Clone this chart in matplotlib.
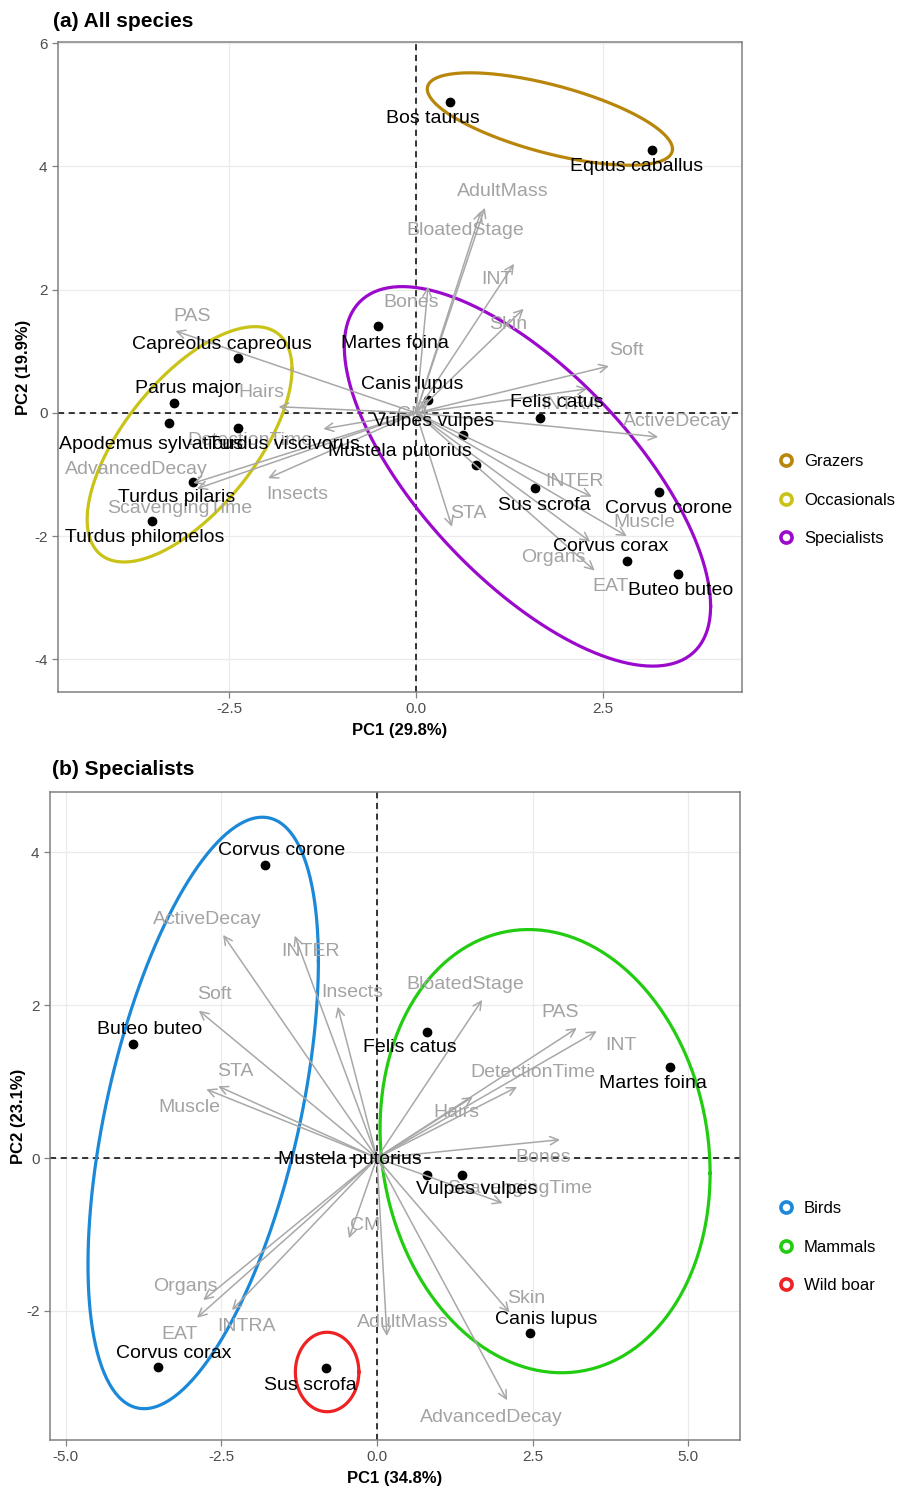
import numpy as np
import matplotlib
matplotlib.use('Agg')
import matplotlib.pyplot as plt
from matplotlib.lines import Line2D

plt.rcParams['font.family'] = ['Liberation Sans', 'DejaVu Sans']
plt.rcParams['axes.unicode_minus'] = False

# ---- (a) all species: scores ----
species_a = ['Bos taurus', 'Equus caballus', 'Capreolus capreolus', 'Parus major',
             'Apodemus sylvaticus', 'Turdus viscivorus', 'Turdus pilaris',
             'Turdus philomelos', 'Martes foina', 'Canis lupus', 'Felis catus',
             'Vulpes vulpes', 'Mustela putorius', 'Sus scrofa', 'Corvus corone',
             'Corvus corax', 'Buteo buteo']
pc1_a = [0.45, 3.16, -2.38, -3.24, -3.30, -2.38, -2.98, -3.53, -0.51, 0.16, 1.66,
         0.63, 0.80, 1.59, 3.25, 2.82, 3.50]
pc2_a = [5.05, 4.27, 0.89, 0.16, -0.16, -0.24, -1.12, -1.75, 1.41, 0.21, -0.08,
         -0.36, -0.84, -1.22, -1.28, -2.40, -2.61]

# ---- (a) loadings ----
vars_a = ['AdultMass', 'BloatedStage', 'INT', 'Skin', 'Bones', 'Soft', 'INTRA',
          'ActiveDecay', 'INTER', 'Muscle', 'Organs', 'EAT', 'STA', 'PAS', 'Hairs',
          'DetectionTime', 'AdvancedDecay', 'ScavengingTime', 'Insects', 'CM']
load1_a = [0.92, 0.87, 1.31, 1.44, 0.16, 2.58, 2.29, 3.24, 2.35, 2.82, 2.33, 2.39,
           0.48, -3.22, -1.84, -1.24, -2.98, -2.93, -1.98, 0.17]
load2_a = [3.33, 3.28, 2.42, 1.69, 2.05, 0.76, 0.39, -0.39, -1.36, -2.00, -2.09,
           -2.56, -1.85, 1.33, 0.10, -0.26, -1.14, -1.23, -1.06, 0.23]

# ---- (a) group ellipses: centre, half extents, tilt (cos of phase) ----
groups_a = ['Grazers', 'Occasionals', 'Specialists']
ell_cx_a = [1.79, -3.03, 1.49]
ell_cy_a = [4.77, -0.51, -1.03]
ell_hw_a = [1.64, 1.37, 2.45]
ell_hh_a = [0.75, 1.91, 3.08]
ell_tilt_a = [-0.65, 0.64, -0.684]

# ---- (b) specialists: scores ----
species_b = ['Corvus corone', 'Buteo buteo', 'Corvus corax', 'Sus scrofa', 'Felis catus',
             'Martes foina', 'Mustela putorius', 'Vulpes vulpes', 'Canis lupus']
pc1_b = [-1.80, -3.92, -3.52, -0.82, 0.80, 4.70, 0.80, 1.36, 2.46]
pc2_b = [3.84, 1.49, -2.74, -2.75, 1.65, 1.19, -0.22, -0.22, -2.29]

# ---- (b) loadings ----
vars_b = ['ActiveDecay', 'INTER', 'Insects', 'Soft', 'STA', 'Muscle', 'BloatedStage',
          'PAS', 'INT', 'DetectionTime', 'Hairs', 'Bones', 'ScavengingTime', 'CM',
          'Organs', 'EAT', 'INTRA', 'AdultMass', 'Skin', 'AdvancedDecay']
load1_b = [-2.47, -1.32, -0.63, -2.86, -2.55, -2.74, 1.69, 3.21, 3.53, 2.25, 1.54,
           2.94, 2.02, -0.45, -2.79, -2.89, -2.33, 0.16, 2.13, 2.09]
load2_b = [2.92, 2.91, 1.98, 1.93, 0.94, 0.90, 2.07, 1.70, 1.66, 0.93, 0.80, 0.24,
           -0.59, -1.05, -1.86, -2.09, -1.99, -2.33, -2.02, -3.17]

# ---- (b) group ellipses ----
groups_b = ['Birds', 'Mammals', 'Wild boar']
ell_cx_b = [-2.79, 2.70, -0.80]
ell_cy_b = [0.59, 0.09, -2.80]
ell_hw_b = [1.85, 2.65, 0.51]
ell_hh_b = [3.87, 2.90, 0.52]
ell_tilt_b = [0.513, -0.10, 0.0]

# label nudges in pixels (right, down)
nudge_sp_a = [(-17, 17), (-16, 17), (-16, -14), (14, -15), (-18, 22), (46, 17),
              (-17, 16), (-8, 17), (17, 17), (-16, -15), (17, -15), (-30, -14),
              (-76, -13), (9, 17), (10, 17), (-16, -14), (3, 17)]
nudge_var_a = [(18, -16), (-16, 20), (-17, 16), (-16, 16), (-17, 16), (17, -16),
               (-17, 16), (19, -15), (-17, -15), (17, -14), (-37, 16), (16, 16),
               (16, -13), (17, -14), (-17, -14), (-73, 12), (-57, -14), (-17, 20),
               (29, 16), (-17, 16)]
nudge_sp_b = [(17, -14), (17, -15), (16, -14), (-16, 17), (-17, 16), (-17, 16),
              (-77, -15), (15, 15), (16, -14)]
nudge_var_b = [(-16, -15), (16, 16), (15, -14), (16, -16), (17, -15), (-17, 18),
               (-17, -15), (-17, -16), (24, 14), (16, -14), (-16, 16), (-17, 18),
               (17, -15), (16, -13), (-18, -14), (-17, 17), (15, 16), (16, -14),
               (17, -14), (-16, 17)]

colors_a = ['#B8860B', '#C9C318', '#9B0ACC']
colors_b = ['#1C88D8', '#22CC11', '#EE2222']

ARROW = '#A8A8A8'
VARTXT = '#A3A3A3'


def biplot(ax, xlim, ylim, xticks, yticks, xlabels,
           sp, p1, p2, nsp, vr, l1, l2, nvr, ell, cols):
    ax.set_xlim(*xlim)
    ax.set_ylim(*ylim)
    ax.set_xticks(xticks)
    ax.set_xticklabels(xlabels)
    ax.set_yticks(yticks)
    ax.grid(True, color='#EBEBEB', lw=0.9, zorder=0)
    ax.set_axisbelow(True)
    for s in ax.spines.values():
        s.set_color('#808080')
        s.set_linewidth(1.1)
    ax.tick_params(length=4, width=0.9, color='#808080', labelsize=11,
                   labelcolor='#4D4D4D')
    ax.axhline(0, color='black', ls=(0, (4, 3)), lw=1.1, zorder=1)
    ax.axvline(0, color='black', ls=(0, (4, 3)), lw=1.1, zorder=1)

    # group ellipses
    t = np.linspace(0, 2 * np.pi, 300)
    for cx, cy, hw, hh, tilt, col in zip(*ell, cols):
        phi = np.arccos(tilt)
        ax.plot(cx + hw * np.cos(t), cy + hh * np.cos(t - phi), color=col, lw=2.3, zorder=2)

    ax.scatter(p1, p2, s=36, color='black', zorder=3)
    for name, x, y, (dx, dy) in zip(sp, p1, p2, nsp):
        ax.annotate(name, (x, y), xytext=(dx, -dy), textcoords='offset pixels',
                    ha='center', va='center', fontsize=14, color='black', zorder=6)

    for name, x, y, (dx, dy) in zip(vr, l1, l2, nvr):
        ax.annotate('', xy=(x, y), xytext=(0, 0),
                    arrowprops=dict(arrowstyle='->,head_length=0.6,head_width=0.3',
                                    color=ARROW, lw=1.1, shrinkA=0, shrinkB=0),
                    zorder=4)
        ax.annotate(name, (x, y), xytext=(dx, -dy), textcoords='offset pixels',
                    ha='center', va='center', fontsize=14, color=VARTXT, zorder=5)

    handles = [Line2D([], [], ls='none', marker='o', markersize=8, markerfacecolor='white',
                      markeredgecolor=c, markeredgewidth=2.6) for c in cols]
    return handles


fig = plt.figure(figsize=(8.99, 14.87), dpi=100)

# (a) All species
ax1 = fig.add_axes([58 / 899, 1 - 692 / 1487, 684 / 899, 650 / 1487])
h1 = biplot(ax1, (-4.79, 4.36), (-4.53, 6.02), [-2.5, 0, 2.5], [-4, -2, 0, 2, 4, 6],
            ['-2.5', '0.0', '2.5'],
            species_a, pc1_a, pc2_a, nudge_sp_a,
            vars_a, load1_a, load2_a, nudge_var_a,
            (ell_cx_a, ell_cy_a, ell_hw_a, ell_hh_a, ell_tilt_a), colors_a)
ax1.set_xlabel('PC1 (29.8%)', fontsize=12, fontweight='bold', labelpad=5)
ax1.set_ylabel('PC2 (19.9%)', fontsize=12, fontweight='bold', labelpad=2)
ax1.set_title('(a) All species', loc='left', fontsize=15, fontweight='bold',
              x=-0.007, pad=11)
fig.legend(h1, groups_a, loc='center left', bbox_to_anchor=(778 / 899, 1 - 500 / 1487),
           frameon=False, fontsize=12, labelspacing=1.4, handlelength=1.0,
           handletextpad=0.55, borderpad=0, borderaxespad=0)

# (b) Specialists
ax2 = fig.add_axes([50 / 899, 1 - 1440 / 1487, 690 / 899, 648 / 1487])
h2 = biplot(ax2, (-5.25, 5.83), (-3.69, 4.79), [-5, -2.5, 0, 2.5, 5], [-2, 0, 2, 4],
            ['-5.0', '-2.5', '0.0', '2.5', '5.0'],
            species_b, pc1_b, pc2_b, nudge_sp_b,
            vars_b, load1_b, load2_b, nudge_var_b,
            (ell_cx_b, ell_cy_b, ell_hw_b, ell_hh_b, ell_tilt_b), colors_b)
ax2.set_xlabel('PC1 (34.8%)', fontsize=12, fontweight='bold', labelpad=5)
ax2.set_ylabel('PC2 (23.1%)', fontsize=12, fontweight='bold', labelpad=0)
ax2.set_title('(b) Specialists', loc='left', fontsize=15, fontweight='bold',
              x=0.003, pad=12.5)
fig.legend(h2, groups_b, loc='center left', bbox_to_anchor=(778 / 899, 1 - 1247 / 1487),
           frameon=False, fontsize=12, labelspacing=1.4, handlelength=1.0,
           handletextpad=0.55, borderpad=0, borderaxespad=0)

fig.savefig('out.png', dpi=100)
